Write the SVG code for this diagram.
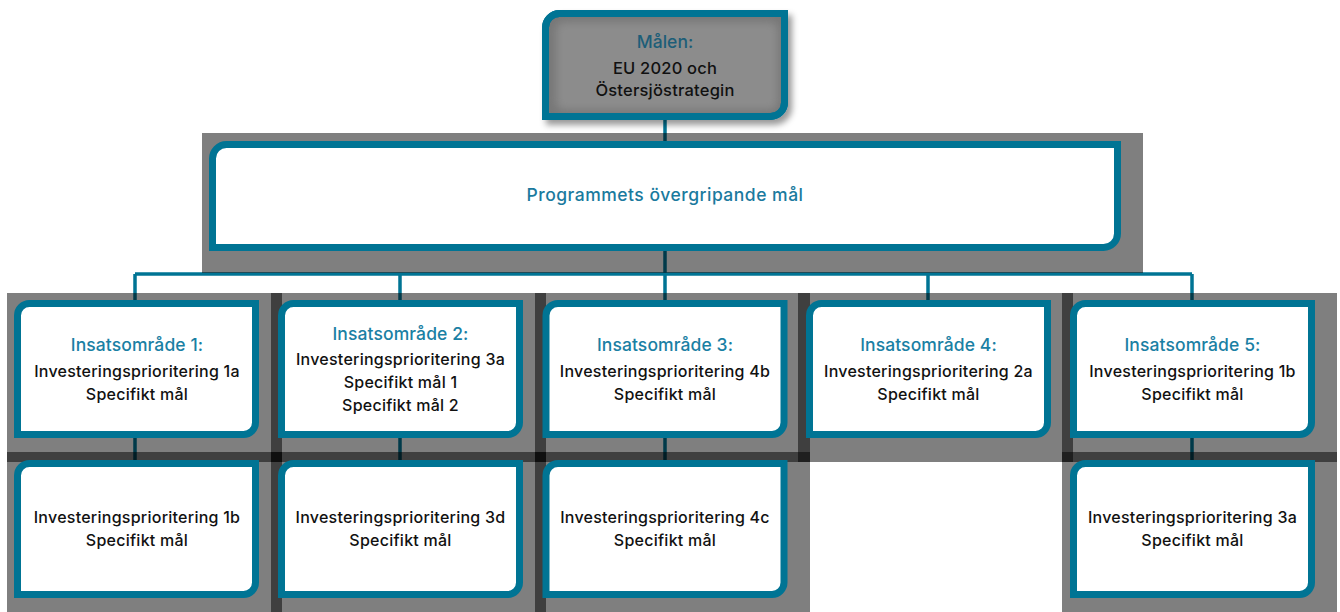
<svg xmlns="http://www.w3.org/2000/svg" width="1340" height="612" viewBox="0 0 1340 612">
<style>
.bg{fill:#000;fill-opacity:0.5}
.box{fill:#fff;stroke:#007494;stroke-width:7}
.con{stroke:#007494;stroke-width:3.5;fill:none}
.t{font-family:Inter,Roboto,"Liberation Sans",sans-serif;font-weight:500;text-anchor:middle}
.ttl{font-size:17.5px;letter-spacing:0.1px;fill:#1a80a4}
.body{font-size:16px;letter-spacing:0.25px;fill:#111}
</style>
<defs>
<path id="nb" d="M15.5,3.5 H241.5 V122.5 A12,12 0 0 1 229.5,134.5 H3.5 V15.5 A12,12 0 0 1 15.5,3.5 Z"/>
<filter id="drop" x="-10%" y="-20%" width="125%" height="150%">
<feDropShadow dx="4" dy="5" stdDeviation="3" flood-color="#000" flood-opacity="0.4"/>
</filter>
<filter id="blur" x="-20%" y="-30%" width="140%" height="160%">
<feGaussianBlur stdDeviation="4"/>
</filter>
</defs>
<g id="connectors">
<path class="con" d="M665,118 V143"/>
<path class="con" d="M665,249 V274"/>
<path class="con" d="M135,274 H1192"/>
<path class="con" d="M135,274 V302 M400,274 V302 M665,274 V302 M928,274 V302 M1192,274 V302"/>
<path class="con" d="M135,436 V462 M400,436 V462 M665,436 V462 M1192,436 V462"/>
</g>
<g id="backgrounds">
<rect class="bg" x="202" y="133" width="941" height="140"/>
<rect class="bg" x="7" y="293" width="275" height="169"/>
<rect class="bg" x="271" y="293" width="275" height="169"/>
<rect class="bg" x="535" y="293" width="275" height="169"/>
<rect class="bg" x="798" y="293" width="275" height="169"/>
<rect class="bg" x="1062" y="293" width="275" height="169"/>
<rect class="bg" x="7" y="452" width="275" height="160"/>
<rect class="bg" x="271" y="452" width="275" height="160"/>
<rect class="bg" x="535" y="452" width="275" height="160"/>
<rect class="bg" x="1062" y="452" width="275" height="160"/>
</g>
<g id="malen">
<g filter="url(#drop)">
<path d="M559.5,13.5 H784.5 V102.5 A14,14 0 0 1 770.5,116.5 H545.5 V27.5 A14,14 0 0 1 559.5,13.5 Z" fill="#777" stroke="#007494" stroke-width="7"/>
</g>
<rect x="556" y="22" width="222" height="88" rx="8" fill="#8c8c8c" filter="url(#blur)"/>
<path d="M559.5,13.5 H784.5 V102.5 A14,14 0 0 1 770.5,116.5 H545.5 V27.5 A14,14 0 0 1 559.5,13.5 Z" fill="none" stroke="#007494" stroke-width="7"/>
<text class="t" x="665" y="48" font-size="17.5" fill="#1d5e78">Målen:</text>
<text class="t" x="665" y="74" font-size="16.5" letter-spacing="0.2" fill="#111">EU 2020 och</text>
<text class="t" x="665" y="96" font-size="16.5" letter-spacing="0.2" fill="#111">Östersjöstrategin</text>
</g>
<g id="program">
<path class="box" d="M226.5,144.5 H1117.5 V233.5 A14,14 0 0 1 1103.5,247.5 H212.5 V158.5 A14,14 0 0 1 226.5,144.5 Z"/>
<text class="t" x="665" y="201" font-size="17.5" letter-spacing="0.5" fill="#1a7a9e">Programmets övergripande mål</text>
</g>
<g id="ia1">
<use href="#nb" class="box" x="14" y="300"/>
<text class="t ttl" x="137" y="351">Insatsområde 1:</text>
<text class="t body" x="137" y="377">Investeringsprioritering 1a</text>
<text class="t body" x="137" y="400">Specifikt mål</text>
</g>
<g id="ia2">
<use href="#nb" class="box" x="278" y="300"/>
<text class="t ttl" x="400.5" y="340">Insatsområde 2:</text>
<text class="t body" x="400.5" y="365">Investeringsprioritering 3a</text>
<text class="t body" x="400.5" y="388">Specifikt mål 1</text>
<text class="t body" x="400.5" y="411">Specifikt mål 2</text>
</g>
<g id="ia3">
<use href="#nb" class="box" x="542.5" y="300"/>
<text class="t ttl" x="665" y="351">Insatsområde 3:</text>
<text class="t body" x="665" y="377">Investeringsprioritering 4b</text>
<text class="t body" x="665" y="400">Specifikt mål</text>
</g>
<g id="ia4">
<use href="#nb" class="box" x="806" y="300"/>
<text class="t ttl" x="928.5" y="351">Insatsområde 4:</text>
<text class="t body" x="928.5" y="377">Investeringsprioritering 2a</text>
<text class="t body" x="928.5" y="400">Specifikt mål</text>
</g>
<g id="ia5">
<use href="#nb" class="box" x="1070" y="300"/>
<text class="t ttl" x="1192.5" y="351">Insatsområde 5:</text>
<text class="t body" x="1192.5" y="377">Investeringsprioritering 1b</text>
<text class="t body" x="1192.5" y="400">Specifikt mål</text>
</g>
<g id="ip1b">
<use href="#nb" class="box" x="14" y="460"/>
<text class="t body" x="137" y="523">Investeringsprioritering 1b</text>
<text class="t body" x="137" y="546">Specifikt mål</text>
</g>
<g id="ip3d">
<use href="#nb" class="box" x="278" y="460"/>
<text class="t body" x="400.5" y="523">Investeringsprioritering 3d</text>
<text class="t body" x="400.5" y="546">Specifikt mål</text>
</g>
<g id="ip4c">
<use href="#nb" class="box" x="542.5" y="460"/>
<text class="t body" x="665" y="523">Investeringsprioritering 4c</text>
<text class="t body" x="665" y="546">Specifikt mål</text>
</g>
<g id="ip3a">
<use href="#nb" class="box" x="1070" y="460"/>
<text class="t body" x="1192.5" y="523">Investeringsprioritering 3a</text>
<text class="t body" x="1192.5" y="546">Specifikt mål</text>
</g>
</svg>
